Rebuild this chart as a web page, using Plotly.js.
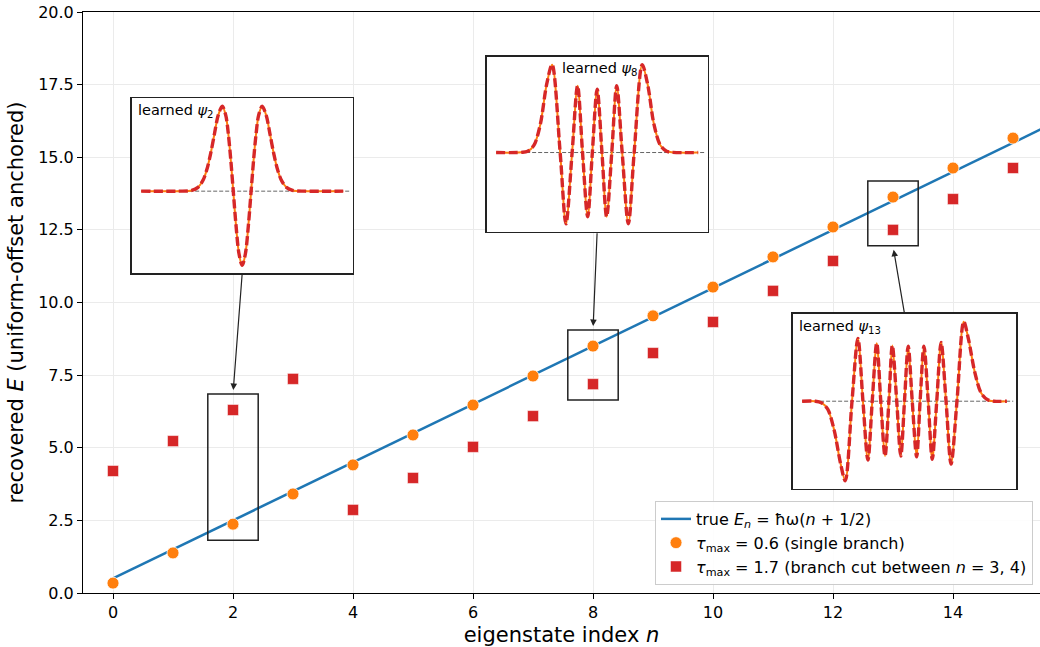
<!DOCTYPE html>
<html><head><meta charset="utf-8">
<script src="https://cdn.plot.ly/plotly-3.0.1.min.js"></script>
<style>html,body{margin:0;padding:0;background:#fff;} #chart{width:1040px;height:647px;}</style>
</head><body><div id="chart"></div>
<script>
// ---------------- data ----------------
const stateIndex = [0, 1, 2, 3, 4, 5, 6, 7, 8, 9, 10, 11, 12, 13, 14, 15];
const energySingle = [0.34, 1.38, 2.37, 3.41, 4.41, 5.44, 6.47, 7.47, 8.50, 9.54, 10.53, 11.57, 12.60, 13.63, 14.63, 15.66];
const energyCut = [4.20, 5.23, 6.30, 7.37, 2.86, 3.96, 5.03, 6.09, 7.19, 8.26, 9.33, 10.40, 11.43, 12.50, 13.56, 14.63];
const trueLineN = [0, 16];
const trueLineE = [0.5, 16.5];
const highlightStates = [2, 8, 13];

const psi2X = [-8, -5, -4, -3.5, -3.1, -2.8, -2.5, -2.2, -1.9, -1.58, -1.3, -1.1, -0.9, -0.707, -0.5, -0.25, 0, 0.25, 0.5, 0.707, 0.9, 1.1, 1.3, 1.58, 1.9, 2.2, 2.5, 2.8, 3.1, 3.5, 4, 5, 8];
const psi2Y = [0, 0, 0.009, 0.045, 0.13, 0.254, 0.441, 0.673, 0.893, 1.0, 0.892, 0.676, 0.361, 0, -0.385, -0.74, -0.873, -0.74, -0.385, 0, 0.361, 0.676, 0.892, 1.0, 0.893, 0.673, 0.441, 0.254, 0.13, 0.045, 0.009, 0, 0];

const psi8X = [-8, -6, -5.5, -5, -4.5, -4, -3.57, -2.931, -2.47, -1.982, -1.55, -1.157, -0.75, -0.381, 0, 0.381, 0.75, 1.157, 1.55, 1.982, 2.47, 2.931, 3.57, 4, 4.5, 5, 5.5, 6, 8];
const psi8Y = [0, 0.002, 0.015, 0.084, 0.32, 0.775, 1.0, 0, -0.81, 0, 0.76, 0, -0.73, 0, 0.72, 0, -0.73, 0, 0.76, 0, -0.81, 0, 1.0, 0.775, 0.32, 0.084, 0.015, 0.002, 0];

const psi13X = [-8, -7, -6.5, -6, -5.5, -5, -4.63, -4.101, -3.64, -3.247, -2.86, -2.52, -2.17, -1.853, -1.52, -1.22, -0.95, -0.606, -0.29, 0, 0.29, 0.606, 0.95, 1.22, 1.52, 1.853, 2.17, 2.52, 2.86, 3.247, 3.64, 4.101, 4.63, 5, 5.5, 6, 6.5, 7, 8];
const psi13Y = [0, 0, -0.018, -0.10, -0.36, -0.78, -1.0, 0, 0.79, 0, -0.74, 0, 0.73, 0, -0.69, 0, 0.70, 0, -0.69, 0, 0.69, 0, -0.70, 0, 0.69, 0, -0.73, 0, 0.74, 0, -0.79, 0, 1.0, 0.78, 0.36, 0.10, 0.018, 0, 0];

const insetLabels = ['learned <i>ψ</i><sub>2</sub>', 'learned <i>ψ</i><sub>8</sub>', 'learned <i>ψ</i><sub>13</sub>'];
const legendNames = [
  'true <i>E<sub>n</sub></i> = ħω(<i>n</i> + 1/2)',
  '<i>τ</i><sub>max</sub> = 0.6 (single branch)',
  '<i>τ</i><sub>max</sub> = 1.7 (branch cut between <i>n</i> = 3, 4)'
];

// ---------------- style / layout ----------------
const FONT = 'DejaVu Sans, Verdana, sans-serif';
const BLUE = '#1f77b4', ORANGE = '#ff7f0e', RED = '#d62728';
const xr = [-0.5, 15.45], yr = [0, 20];
const insets = [
  {curveX: psi2X, curveY: psi2Y, dx: [0.0509, 0.2818], dy: [0.5503, 0.8515], labelDx: 0.02, labelDy: 0.93, arrowFrom: 'bottom'},
  {curveX: psi8X, curveY: psi8Y, dx: [0.4218, 0.6527], dy: [0.6219, 0.9231], labelDx: 0.33, labelDy: 0.93, arrowFrom: 'bottom'},
  {curveX: psi13X, curveY: psi13Y, dx: [0.7414, 0.9754], dy: [0.1795, 0.4807], labelDx: 0.02, labelDy: 0.925, arrowFrom: 'top'}
];
const boxHalfW = 0.42, boxPad = 0.55, insetXR = [-8.75, 8.75];

const traces = [
  {x: trueLineN, y: trueLineE, mode: 'lines', name: legendNames[0], line: {color: BLUE, width: 2.5}, xaxis: 'x', yaxis: 'y'},
  {x: stateIndex, y: energySingle, mode: 'markers', name: legendNames[1],
   marker: {color: ORANGE, size: 12, symbol: 'circle', line: {color: '#ffffff', width: 0.8}}},
  {x: stateIndex, y: energyCut, mode: 'markers', name: legendNames[2],
   marker: {color: RED, size: 11, symbol: 'square', line: {color: '#ffffff', width: 0.5}}}
];

const layout = {
  width: 1040, height: 647,
  margin: {l: 83, r: 0, t: 12, b: 54},
  paper_bgcolor: '#ffffff', plot_bgcolor: '#ffffff',
  font: {family: FONT, color: '#000', size: 16},
  showlegend: true,
  legend: {x: 0.9927, xanchor: 'right', y: 0.0138, yanchor: 'bottom',
           bgcolor: 'rgba(255,255,255,0.9)', bordercolor: '#cccccc', borderwidth: 1,
           font: {family: FONT, size: 16, color: '#000'}, tracegroupgap: 0},
  xaxis: {range: xr, tick0: 0, dtick: 2, showgrid: true, gridcolor: '#ebebeb', gridwidth: 1,
          zeroline: false, showline: true, mirror: true, linecolor: '#000', linewidth: 1,
          ticks: 'outside', ticklen: 5, tickcolor: '#000', tickfont: {size: 16},
          title: {text: 'eigenstate index <i>n</i>', font: {size: 21}, standoff: 6}},
  yaxis: {range: yr, tick0: 0, dtick: 2.5, tickformat: '.1f', showgrid: true, gridcolor: '#ebebeb', gridwidth: 1,
          zeroline: false, showline: true, mirror: false, linecolor: '#000', linewidth: 1,
          ticks: 'outside', ticklen: 5, tickcolor: '#000', tickfont: {size: 16},
          title: {text: 'recovered <i>E</i> (uniform-offset anchored)', font: {size: 21}, standoff: 8}},
  shapes: [], annotations: []
};

// highlight boxes around the selected states
function boxFor(n) {
  const i = stateIndex.indexOf(n);
  const lo = Math.min(energySingle[i], energyCut[i]) - boxPad;
  const hi = Math.max(energySingle[i], energyCut[i]) + boxPad;
  return {x0: n - boxHalfW, x1: n + boxHalfW, y0: lo, y1: hi};
}
const paperToX = p => xr[0] + p * (xr[1] - xr[0]);
const paperToY = p => yr[0] + p * (yr[1] - yr[0]);

highlightStates.forEach((n, k) => {
  const b = boxFor(n);
  layout.shapes.push({type: 'rect', xref: 'x', yref: 'y', x0: b.x0, x1: b.x1, y0: b.y0, y1: b.y1,
                      line: {color: '#222', width: 1.5}, fillcolor: 'rgba(0,0,0,0)', layer: 'above'});
  const ins = insets[k];
  const id = k + 2;
  const xa = 'xaxis' + id, ya = 'yaxis' + id;
  const ymin = Math.min(...ins.curveY), ymax = Math.max(...ins.curveY);
  const pad = 0.05 * (ymax - ymin);
  const yRange = [ymin - pad, ymax + pad];
  layout[xa] = {domain: ins.dx, anchor: 'y' + id, range: insetXR, showticklabels: false, ticks: '', showgrid: false,
                zeroline: false, showline: true, mirror: true, linecolor: '#222', linewidth: 1.6, fixedrange: true};
  layout[ya] = {domain: ins.dy, anchor: 'x' + id, range: yRange, showticklabels: false, ticks: '', showgrid: false,
                zeroline: false, showline: true, mirror: true, linecolor: '#222', linewidth: 1.6, fixedrange: true};
  // white background of the inset
  layout.shapes.push({type: 'rect', xref: 'x' + id, yref: 'y' + id, x0: insetXR[0], x1: insetXR[1], y0: yRange[0], y1: yRange[1],
                      line: {width: 0}, fillcolor: '#ffffff', layer: 'below'});
  const xmin = Math.min(...ins.curveX), xmax = Math.max(...ins.curveX);
  traces.push({x: [xmin, xmax + 0.5], y: [0, 0], mode: 'lines', xaxis: 'x' + id, yaxis: 'y' + id, showlegend: false,
               line: {color: '#666', width: 1, dash: '4px,2px'}, hoverinfo: 'skip'});
  traces.push({x: ins.curveX, y: ins.curveY, mode: 'lines', xaxis: 'x' + id, yaxis: 'y' + id, showlegend: false,
               line: {color: ORANGE, width: 2, shape: 'spline', smoothing: 0.9}, hoverinfo: 'skip'});
  traces.push({x: ins.curveX, y: ins.curveY, mode: 'lines', xaxis: 'x' + id, yaxis: 'y' + id, showlegend: false,
               line: {color: RED, width: 3.4, dash: '9px,3.5px', shape: 'spline', smoothing: 0.9}, hoverinfo: 'skip'});
  // label
  layout.annotations.push({xref: 'paper', yref: 'paper',
    x: ins.dx[0] + ins.labelDx * (ins.dx[1] - ins.dx[0]), y: ins.dy[0] + ins.labelDy * (ins.dy[1] - ins.dy[0]),
    xanchor: 'left', yanchor: 'middle', text: insetLabels[k], showarrow: false, font: {family: FONT, size: 14.5, color: '#000'}});
  // arrow from inset edge to highlight box
  const tailPX = (ins.dx[0] + ins.dx[1]) / 2;
  const tailPY = ins.arrowFrom === 'bottom' ? ins.dy[0] : ins.dy[1];
  layout.annotations.push({xref: 'x', yref: 'y', axref: 'x', ayref: 'y',
    x: n, y: ins.arrowFrom === 'bottom' ? b.y1 : b.y0,
    ax: paperToX(tailPX), ay: paperToY(tailPY),
    text: '', showarrow: true, arrowhead: 2, arrowsize: 1.1, arrowwidth: 1.2, arrowcolor: '#222', standoff: 4});
});

Plotly.newPlot('chart', traces, layout, {displayModeBar: false, staticPlot: true});
</script></body></html>
